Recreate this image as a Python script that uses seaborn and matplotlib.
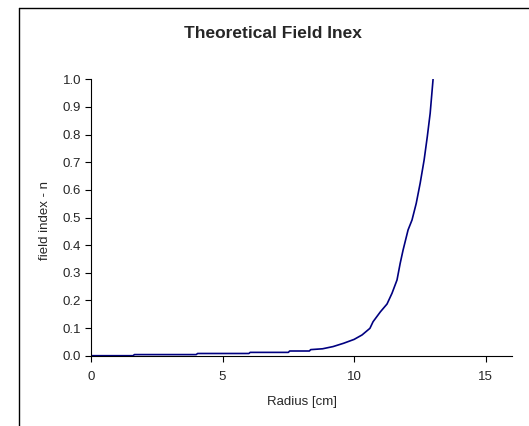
import matplotlib
matplotlib.use("Agg")
import matplotlib.pyplot as plt
import seaborn as sns
import pandas as pd
from matplotlib.lines import Line2D

# data
radius = [0, 1.6, 1.65, 4.0, 4.05, 6.0, 6.05, 7.5, 7.55, 8.3, 8.35, 8.8, 9.2,
          9.6, 10.0, 10.3, 10.6, 10.72, 11.0, 11.25, 11.44, 11.63, 11.75,
          11.86, 12.05, 12.2, 12.36, 12.51, 12.66, 12.78, 12.89, 13.0]
field_index = [0, 0, 0.004, 0.004, 0.008, 0.008, 0.012, 0.012, 0.017, 0.017,
               0.022, 0.025, 0.033, 0.045, 0.059, 0.075, 0.099, 0.123, 0.159,
               0.187, 0.226, 0.274, 0.334, 0.382, 0.455, 0.491, 0.551, 0.624,
               0.708, 0.792, 0.877, 1.0]
x_ticks = [0, 5, 10, 15]
y_ticks = [0.0, 0.1, 0.2, 0.3, 0.4, 0.5, 0.6, 0.7, 0.8, 0.9, 1.0]

df = pd.DataFrame({"Radius": radius, "n": field_index})

sns.set_style("white")
plt.rcParams["font.family"] = ["Liberation Sans", "DejaVu Sans"]

W, H = 529, 426
fig = plt.figure(figsize=(W / 100, H / 100), dpi=100)
ax = fig.add_axes([91 / W, 1 - 355.7 / H, (512 - 91) / W, (355.7 - 79.3) / H])

sns.lineplot(data=df, x="Radius", y="n", ax=ax, color="#000080",
             linewidth=1.2, estimator=None)

ax.set_xlim(0, 16)
ax.set_ylim(0, 1.0)
ax.set_xticks(x_ticks)
ax.set_yticks(y_ticks)
ax.set_yticklabels([f"{v:.1f}" for v in y_ticks])
ax.tick_params(axis="both", labelsize=9.5, length=4, width=0.8,
               direction="out", color="black", bottom=True, left=True)
ax.tick_params(axis="x", pad=7)
ax.tick_params(axis="y", pad=3)
for side in ["top", "right"]:
    ax.spines[side].set_visible(False)
for side in ["left", "bottom"]:
    ax.spines[side].set_color("black")
    ax.spines[side].set_linewidth(0.8)

ax.set_xlabel("")
ax.set_ylabel("")
fig.text(302 / W, 1 - 402 / H, "Radius [cm]", ha="center", va="center", fontsize=9.5)
fig.text(45 / W, 1 - 220 / H, "field index - n", ha="center", va="center",
         rotation=90, fontsize=9.5)
fig.text(273 / W, 1 - 33 / H, "Theoretical Field Inex", ha="center", va="center",
         fontsize=12.5, fontweight="bold")

# chart area border (only left and top are inside the picture)
bx, by = 18.5 / W, 1 - 8 / H
fig.add_artist(Line2D([bx, bx], [-0.05, by], transform=fig.transFigure,
                      color="black", lw=1.0))
fig.add_artist(Line2D([bx, 1.05], [by, by], transform=fig.transFigure,
                      color="black", lw=1.0))

fig.savefig("out.png", dpi=100)
